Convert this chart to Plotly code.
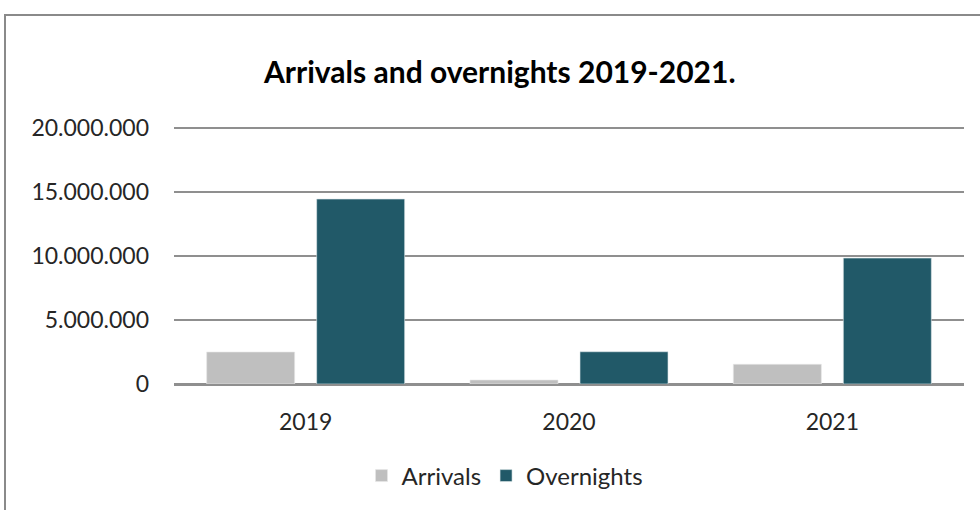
import plotly.graph_objects as go

years = ["2019", "2020", "2021"]
arrivals = [2500000, 310000, 1540000]
overnights = [14450000, 2520000, 9840000]
y_ticks = [0, 5000000, 10000000, 15000000, 20000000]

FONT = "Lato, Calibri, Carlito, sans-serif"
PH = 260  # plot height in px
L, R = 174, 16
PW = 980 - L - R

fig = go.Figure()
fig.add_trace(go.Bar(name="Arrivals", x=years, y=arrivals,
                     marker=dict(color="#BFBFBF", line=dict(color="#e8e8e8", width=0.6))))
fig.add_trace(go.Bar(name="Overnights", x=years, y=overnights,
                     marker=dict(color="#215968", line=dict(color="#dfe8ea", width=0.6))))

fig.update_layout(
    width=980, height=510,
    margin=dict(l=L, r=R, t=510 - 126 - PH, b=126),
    paper_bgcolor="white", plot_bgcolor="white",
    separators=",.",
    barmode="group", bargap=0.1645, bargroupgap=0.2,
    font=dict(family=FONT, size=23, color="#262626"),
    title=dict(text="<b>Arrivals and overnights 2019-2021.</b>",
               x=0.51, xanchor="center", y=1 - 72 / 510, yanchor="middle",
               yref="container", font=dict(family=FONT, size=30, color="#000000")),
    legend=dict(orientation="h", x=(505 - L) / PW, xanchor="center", y=(384 - 476) / PH,
                yanchor="middle",
                font=dict(family=FONT, size=24, color="#262626"), itemwidth=30,
                traceorder="normal"),
    xaxis=dict(showgrid=False, showline=False, ticks="", ticklabelstandoff=22,
               tickfont=dict(size=23)),
    yaxis=dict(range=[0, 20000000 * PH / 256], tickvals=y_ticks, tickformat=",d",
               showgrid=True, gridcolor="#8f8f8f", gridwidth=2,
               zeroline=True, zerolinecolor="#8f8f8f", zerolinewidth=2.5,
               showline=False, ticks="", ticklabelstandoff=24,
               tickfont=dict(size=23)),
    shapes=[dict(type="rect", xref="paper", yref="paper",
                 x0=(5 - L) / PW, x1=1.2, y0=-0.8, y1=(384 - 15) / PH,
                 line=dict(color="#8a8a8a", width=2), fillcolor="rgba(0,0,0,0)",
                 layer="above")],
)

fig.write_html("out.html", config={"displayModeBar": False},
               post_script="document.body.style.margin='0';document.body.style.overflow='hidden';")
